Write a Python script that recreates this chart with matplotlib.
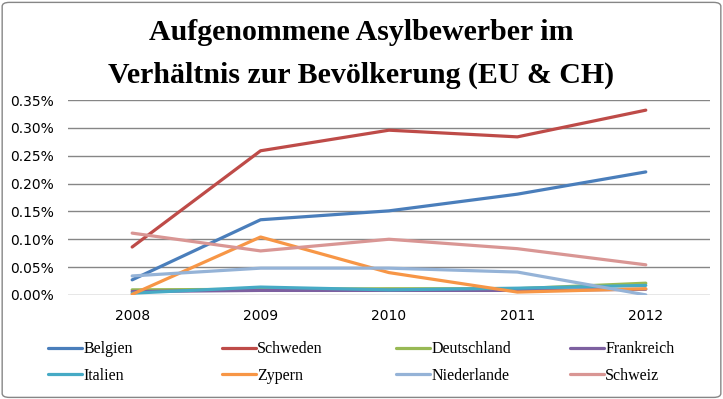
import matplotlib.pyplot as plt
from matplotlib.patches import FancyBboxPatch

# data (percent of population)
years = ["2008", "2009", "2010", "2011", "2012"]
belgien = [0.027, 0.135, 0.151, 0.181, 0.221]
schweden = [0.086, 0.259, 0.296, 0.284, 0.332]
deutschland = [0.009, 0.010, 0.011, 0.011, 0.021]
frankreich = [0.006, 0.008, 0.008, 0.008, 0.010]
italien = [0.003, 0.014, 0.009, 0.012, 0.017]
zypern = [0.001, 0.104, 0.040, 0.005, 0.011]
niederlande = [0.034, 0.048, 0.048, 0.041, 0.000]
schweiz = [0.111, 0.079, 0.100, 0.083, 0.054]

series = [
    ("Belgien", belgien, "#4A7EBB"),
    ("Schweden", schweden, "#BE4B48"),
    ("Deutschland", deutschland, "#98B954"),
    ("Frankreich", frankreich, "#7D60A0"),
    ("Italien", italien, "#46AAC5"),
    ("Zypern", zypern, "#F79646"),
    ("Niederlande", niederlande, "#95B3D7"),
    ("Schweiz", schweiz, "#D99694"),
]

fig = plt.figure(figsize=(7.23, 3.99), dpi=100)
ax = fig.add_axes([0.094, 0.261, 0.888, 0.488])

x = range(len(years))
lines = []
for name, vals, col in series:
    ln, = ax.plot(x, vals, color=col, lw=2.3, label=name, solid_capstyle="round")
    lines.append(ln)

ax.set_xlim(-0.5, len(years) - 0.5)
ax.set_ylim(0, 0.35)
ax.set_xticks(list(x))
ax.set_xticklabels(years)
yt = [i * 0.05 for i in range(8)]
ax.set_yticks(yt)
ax.set_yticklabels([f"{v:.2f}%" for v in yt])
ax.tick_params(length=0, labelsize=10, pad=10)
ax.grid(axis="y", color="#868686", lw=1)
ax.set_axisbelow(True)
for s in ax.spines.values():
    s.set_visible(False)

title_font = dict(ha="center", va="baseline", fontsize=21.5, fontweight="bold",
                  family="Liberation Serif")
fig.text(0.5, 0.900, "Aufgenommene Asylbewerber im", **title_font)
fig.text(0.5, 0.792, "Verhältnis zur Bevölkerung (EU & CH)", **title_font)

# one small legend per column, two rows each
col_x = [48, 222, 396, 570]
for c in range(4):
    idx = [c, c + 4]
    leg = fig.legend([lines[i] for i in idx], [series[i][0] for i in idx],
                     loc="upper left", bbox_to_anchor=(col_x[c] / 723, 0.1445),
                     frameon=False, prop={"family": "Liberation Serif", "size": 11.5},
                     handlelength=2.1, handletextpad=0.1, labelspacing=0.65,
                     borderaxespad=0, borderpad=0)

border = FancyBboxPatch((0.003, 0.004), 0.994, 0.99, boxstyle="round,pad=0,rounding_size=0.01",
                        transform=fig.transFigure, fill=False, ec="#868686", lw=1)
fig.patches.append(border)

fig.savefig("out.png", dpi=100)
